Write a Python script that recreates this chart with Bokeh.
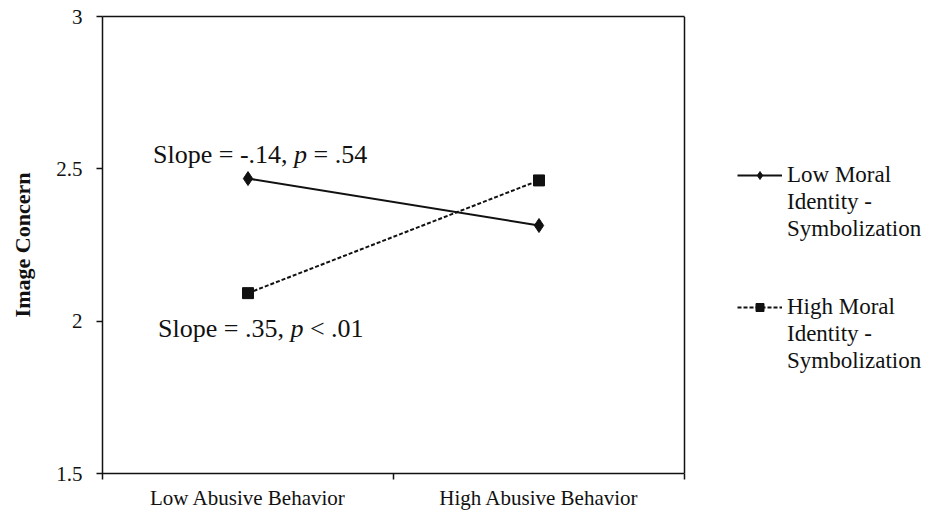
from bokeh.plotting import figure
from bokeh.models import Range1d, FixedTicker, Legend, LegendItem, Label, LinearAxis, Span
from bokeh.embed import file_html
from bokeh.resources import INLINE

# ---- data ----
categories = ["Low Abusive Behavior", "High Abusive Behavior"]
low_moral_identity = [2.468, 2.314]
high_moral_identity = [2.092, 2.462]
y_ticks = [1.5, 2, 2.5, 3]
y_tick_labels = ["1.5", "2", "2.5", "3"]
series_lines = [["Low Moral", "Identity -", "Symbolization"],
                ["High Moral", "Identity -", "Symbolization"]]
slope_low = ["Slope = -.14,\u00a0", "p", "\u00a0= .54"]
slope_high = ["Slope = .35,\u00a0", "p", "\u00a0< .01"]

FONT = "Liberation Serif"
INK = "#111111"

W, H = 933, 512
LEFT, BOX_RIGHT, TOP, BOTTOM = 102, 684, 16, 37   # layout (pixels)

n = len(categories)
xs = [i + 0.5 for i in range(n)]
boundaries = [float(i) for i in range(n + 1)]
# frame extends to the right edge so the legend can live inside it;
# the boxed plot area ends at x = n
x_end = n * (W - LEFT) / (BOX_RIGHT - LEFT)

p = figure(width=W, height=H,
           x_range=Range1d(0, x_end), y_range=Range1d(y_ticks[0], y_ticks[-1]),
           output_backend="svg", toolbar_location=None,
           min_border_left=LEFT, min_border_right=0, min_border_top=TOP, min_border_bottom=BOTTOM)
p.grid.visible = False
p.outline_line_color = None
p.background_fill_color = "white"
p.border_fill_color = "white"

# x axis
xa = p.xaxis[0]
xa.bounds = (0, n)
xa.ticker = FixedTicker(ticks=xs, minor_ticks=boundaries)
xa.major_label_overrides = {x: c for x, c in zip(xs, categories)}
xa.major_tick_out = 0
xa.major_tick_in = 0
xa.minor_tick_out = 6
xa.minor_tick_in = 0
xa.minor_tick_line_color = INK
xa.minor_tick_line_width = 1.5
xa.axis_line_color = INK
xa.axis_line_width = 1.5
xa.major_label_standoff = 6
xa.major_label_text_font = FONT
xa.major_label_text_font_size = "21px"
xa.major_label_text_color = INK

# top edge of the box
top_axis = LinearAxis(bounds=(0, n), ticker=FixedTicker(ticks=[], minor_ticks=[]),
                      axis_line_color=INK, axis_line_width=1.5,
                      major_tick_out=0, major_tick_in=0, minor_tick_out=0, minor_tick_in=0,
                      major_label_text_font_size="0px")
p.add_layout(top_axis, "above")

# right edge of the box
p.add_layout(Span(location=n, dimension="height", line_color=INK, line_width=1.5))

# y axis
ya = p.yaxis[0]
ya.ticker = FixedTicker(ticks=y_ticks, minor_ticks=[])
ya.major_label_overrides = {t: s for t, s in zip(y_ticks, y_tick_labels)}
ya.major_tick_out = 6
ya.major_tick_in = 0
ya.major_tick_line_color = INK
ya.major_tick_line_width = 1.5
ya.axis_line_color = INK
ya.axis_line_width = 1.5
ya.major_label_standoff = 14
ya.major_label_text_font = FONT
ya.major_label_text_font_size = "21px"
ya.major_label_text_color = INK
ya.axis_label = "Image Concern"
ya.axis_label_text_font = FONT
ya.axis_label_text_font_style = "bold"
ya.axis_label_text_font_size = "22px"
ya.axis_label_text_color = INK
ya.axis_label_standoff = 18

# series
l1 = p.line(xs, low_moral_identity, line_color=INK, line_width=2)
s1 = p.scatter(xs, low_moral_identity, marker="diamond", size=14, fill_color=INK, line_color=INK)
l2 = p.line(xs, high_moral_identity, line_color=INK, line_width=2, line_dash="4 2")
s2 = p.scatter(xs, high_moral_identity, marker="square", size=11, fill_color=INK, line_color=INK)

def make_legend(lines, renderers, loc):
    items = [LegendItem(label=lines[0], renderers=renderers)]
    items += [LegendItem(label=t, renderers=[]) for t in lines[1:]]
    lg = Legend(items=items, location=loc, margin=0, padding=0,
                border_line_color=None, background_fill_alpha=0,
                glyph_width=45, glyph_height=20, label_height=20,
                label_standoff=5, spacing=1,
                label_text_font=FONT, label_text_font_size="23px",
                label_text_color=INK)
    p.add_layout(lg, "center")

legend_x = (BOX_RIGHT - LEFT) + 53
make_legend(series_lines[0], [l1, s1], (legend_x, 231))
make_legend(series_lines[1], [l2, s2], (legend_x, 99))

# slope annotations (pieces so that "p" can be italic)
size = 26
em = {slope_low[0]: 5.425, slope_high[0]: 5.092, "p": 0.5}

def add_slope(parts, x, y, dx, dy):
    off = dx
    for k, part in enumerate(parts):
        p.add_layout(Label(x=x, y=y, x_offset=off, y_offset=dy, text=part,
                           text_font=FONT, text_font_size=f"{size}px",
                           text_font_style="italic" if k == 1 else "normal",
                           text_color=INK, text_baseline="alphabetic", text_align="left"))
        off += em.get(part, 0) * size

add_slope(slope_low, xs[0], low_moral_identity[0], -95, 24)
add_slope(slope_high, xs[0], high_moral_identity[0], -90, -35)

open("out.html", "w").write(file_html(p, INLINE))
